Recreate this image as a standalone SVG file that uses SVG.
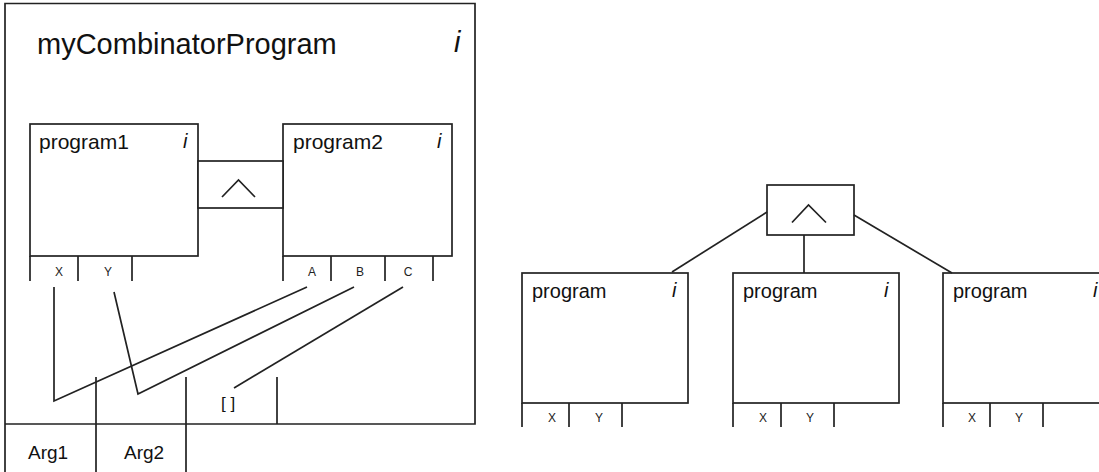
<svg xmlns="http://www.w3.org/2000/svg" width="1099" height="472" viewBox="0 0 1099 472">
<style>
.s{fill:none;stroke:#222;stroke-width:1.7}
.b{fill:#fff;stroke:#222;stroke-width:1.7}
.t{font-family:"Liberation Sans",Arial,sans-serif;fill:#111}
.i{font-family:"Liberation Sans",Arial,sans-serif;font-style:italic;fill:#111}
.p{font-family:"Liberation Sans",Arial,sans-serif;font-size:12px;fill:#222}
</style>
<rect width="1099" height="472" fill="#fff"/>
<g id="myCombinatorProgram">
<path class="s" d="M5,472 V3.5 H475 V424 H5"/>
<text class="t" x="37" y="54" font-size="29">myCombinatorProgram</text>
<text class="i" x="454" y="52" font-size="29">i</text>
<path class="s" d="M96,377 V472 M186,377 V472 M277,377 V424"/>
<text class="t" x="221" y="409" font-size="17">[ ]</text>
<text class="t" x="28" y="459" font-size="19">Arg1</text>
<text class="t" x="124" y="459" font-size="19">Arg2</text>
</g>
<g id="program1">
<rect class="b" x="30" y="124" width="168" height="132"/>
<text class="t" x="39" y="149" font-size="21">program1</text>
<text class="i" x="183" y="148" font-size="20">i</text>
<path class="s" d="M30,256 V281 M78,256 V281 M132,256 V281"/>
<text class="p" x="59" y="276" text-anchor="middle">X</text>
<text class="p" x="108" y="276" text-anchor="middle">Y</text>
</g>
<g id="program2">
<rect class="b" x="283" y="124" width="169" height="132"/>
<text class="t" x="293" y="149" font-size="21">program2</text>
<text class="i" x="437" y="148" font-size="20">i</text>
<path class="s" d="M283,256 V281 M331,256 V281 M385,256 V281 M433,256 V281"/>
<text class="p" x="312" y="276" text-anchor="middle">A</text>
<text class="p" x="360" y="276" text-anchor="middle">B</text>
<text class="p" x="408" y="276" text-anchor="middle">C</text>
</g>
<g id="and1">
<rect class="b" x="198" y="161" width="85" height="47"/>
<path class="s" d="M222,197 L238.5,180 L255,197"/>
</g>
<g id="and2">
<rect class="b" x="767" y="185" width="87" height="50"/>
<path class="s" d="M792,222.5 L808.5,205 L826,222.5"/>
</g>
<g id="programA">
<rect class="b" x="522" y="273" width="166" height="130"/>
<text class="t" x="532" y="298" font-size="20">program</text>
<text class="i" x="672" y="297" font-size="20">i</text>
<path class="s" d="M522,403 V427 M569,403 V427 M622,403 V427"/>
<text class="p" x="552" y="422" text-anchor="middle">X</text>
<text class="p" x="599" y="422" text-anchor="middle">Y</text>
</g>
<g id="programB">
<rect class="b" x="733" y="273" width="166" height="130"/>
<text class="t" x="743" y="298" font-size="20">program</text>
<text class="i" x="884" y="297" font-size="20">i</text>
<path class="s" d="M733,403 V427 M781,403 V427 M834,403 V427"/>
<text class="p" x="763" y="422" text-anchor="middle">X</text>
<text class="p" x="810" y="422" text-anchor="middle">Y</text>
</g>
<g id="programC">
<rect class="b" x="943" y="273" width="166" height="130"/>
<text class="t" x="953" y="298" font-size="20">program</text>
<text class="i" x="1093" y="297" font-size="20">i</text>
<path class="s" d="M943,403 V427 M990,403 V427 M1043,403 V427"/>
<text class="p" x="972" y="422" text-anchor="middle">X</text>
<text class="p" x="1019" y="422" text-anchor="middle">Y</text>
</g>
<g id="connectors">
<path class="s" d="M54,287 V401 L307,287"/>
<path class="s" d="M114,292 L138,394 L354,287"/>
<path class="s" d="M403,287 L234,388"/>
<path class="s" d="M767,212 L672,272"/>
<path class="s" d="M854,215 L952,273"/>
<path class="s" d="M804,235 V273" stroke-width="2.8"/>
</g>
</svg>
